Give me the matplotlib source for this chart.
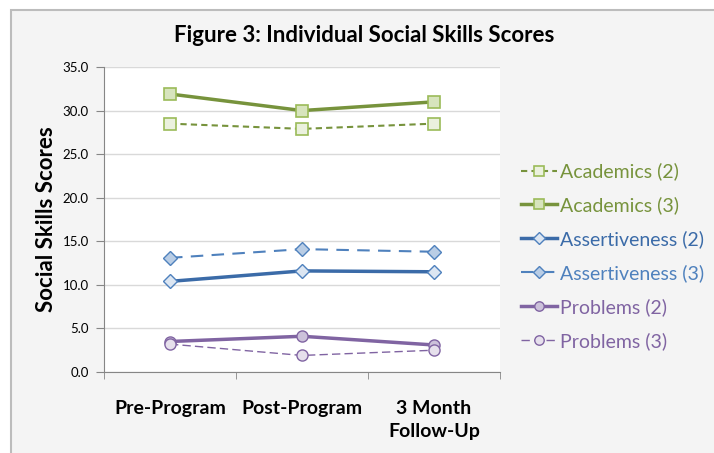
import matplotlib.pyplot as plt
from matplotlib.patches import Rectangle
from matplotlib.ticker import FixedLocator, NullFormatter

plt.rcParams['font.family'] = ['Lato', 'DejaVu Sans']

# data
categories = ['Pre-Program', 'Post-Program', '3 Month\nFollow-Up']
academics_2 = [28.5, 27.9, 28.5]
academics_3 = [31.9, 30.0, 31.0]
assert_2 = [10.4, 11.6, 11.5]
assert_3 = [13.1, 14.1, 13.8]
problems_2 = [3.5, 4.1, 3.1]
problems_3 = [3.2, 1.9, 2.5]

green = '#77933C'
blue = '#4F81BD'
blue_dark = '#3B6BA8'
purple = '#8064A2'

W, H = 714, 453
fig = plt.figure(figsize=(W / 100, H / 100), dpi=100)
fig.patch.set_facecolor('white')
fig.patches.append(Rectangle((11 / W, -0.1), 1.2, 1 - 10 / H + 0.1,
                             transform=fig.transFigure, facecolor='#f4f4f4',
                             edgecolor='#bcbcbc', linewidth=1.5, zorder=-5))

ax = fig.add_axes([104 / W, 1 - 372 / H, 396 / W, 305 / H])
ax.set_facecolor('white')
x = range(len(categories))

ax.plot(x, academics_2, color=green, lw=1.5, ls=(0, (3, 2)), marker='s', ms=8,
        mfc='#ebf1de', mec='#9bbb59', mew=1.2, label='Academics (2)')
ax.plot(x, academics_3, color=green, lw=2.5, marker='s', ms=8,
        mfc='#d7e4bd', mec='#9bbb59', mew=1.2, label='Academics (3)')
ax.plot(x, assert_2, color=blue_dark, lw=2.5, marker='D', ms=7,
        mfc='#dce6f2', mec=blue, mew=1.0, label='Assertiveness (2)')
ax.plot(x, assert_3, color=blue, lw=1.5, ls=(0, (6, 4)), marker='D', ms=7,
        mfc='#b9cde5', mec=blue, mew=1.0, label='Assertiveness (3)')
ax.plot(x, problems_2, color=purple, lw=2.5, marker='o', ms=8,
        mfc='#ccc1da', mec=purple, mew=1.0, label='Problems (2)')
ax.plot(x, problems_3, color=purple, lw=1.0, ls=(0, (6, 3)), marker='o', ms=8,
        mfc='#e6e0ec', mec=purple, mew=1.0, label='Problems (3)')

ax.set_xlim(-0.5, 2.5)
ax.set_ylim(0, 35)
ax.set_yticks([0, 5, 10, 15, 20, 25, 30, 35])
ax.set_yticklabels([f'{v:.1f}' for v in [0, 5, 10, 15, 20, 25, 30, 35]], fontsize=9.5)
ax.grid(axis='y', color='#d9d9d9', lw=1)
ax.set_axisbelow(True)

ax.set_xticks(list(x))
ax.set_xticklabels(categories, fontsize=14, fontweight='bold', linespacing=1.45)
ax.xaxis.set_minor_locator(FixedLocator([-0.5, 0.5, 1.5, 2.5]))
ax.xaxis.set_minor_formatter(NullFormatter())
ax.tick_params(axis='x', which='major', length=0, pad=20)
ax.tick_params(axis='x', which='minor', length=5, color='#868686')
ax.tick_params(axis='y', length=6, color='#868686', pad=5)

for s in ['top', 'right']:
    ax.spines[s].set_visible(False)
for s in ['left', 'bottom']:
    ax.spines[s].set_color('#868686')

ax.set_ylabel('Social Skills Scores', fontsize=16, fontweight='bold', labelpad=4)
fig.text(364 / W, 1 - 36 / H, 'Figure 3: Individual Social Skills Scores',
         ha='center', va='center', fontsize=16, fontweight='bold')

handles, labels = ax.get_legend_handles_labels()
leg = fig.legend(handles, labels, loc='upper left', bbox_to_anchor=(503 / W, 1 - 145 / H),
                 frameon=False, fontsize=14, labelcolor='linecolor',
                 handlelength=1.9, handletextpad=0.15, labelspacing=0.82, markerscale=0.85)

fig.savefig('out.png', dpi=100)
